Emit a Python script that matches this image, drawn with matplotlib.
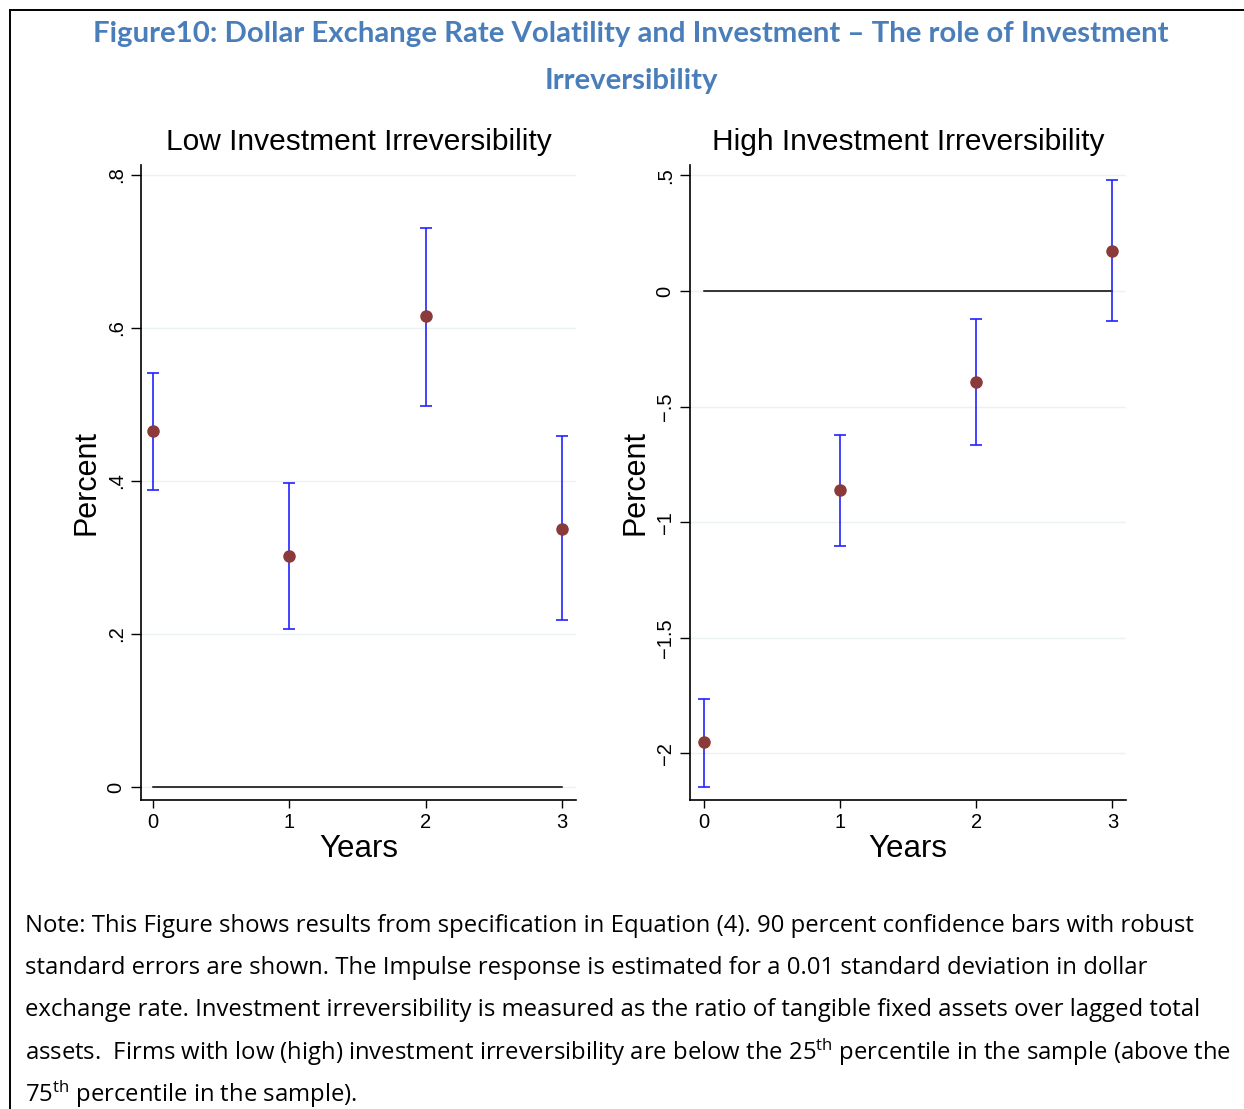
import matplotlib
matplotlib.use("Agg")
import matplotlib.pyplot as plt
from matplotlib.lines import Line2D

# ---------------- data ----------------
years = [0, 1, 2, 3]

low_est = [0.465, 0.302, 0.616, 0.337]
low_lo = [0.388, 0.2065, 0.498, 0.218]
low_hi = [0.541, 0.397, 0.731, 0.459]

high_est = [-1.951, -0.861, -0.394, 0.173]
high_lo = [-2.145, -1.103, -0.666, -0.130]
high_hi = [-1.765, -0.623, -0.121, 0.480]

low_yticks = [0, 0.2, 0.4, 0.6, 0.8]
low_yticklabels = ["0", ".2", ".4", ".6", ".8"]
high_yticks = [-2, -1.5, -1, -0.5, 0, 0.5]
high_yticklabels = ["\u22122", "\u22121.5", "\u22121", "\u2212.5", "0", ".5"]
xticklabels = ["0", "1", "2", "3"]

title_line1 = "Figure10: Dollar Exchange Rate Volatility and Investment \u2013 The role of Investment"
title_line2 = "Irreversibility"
panel_titles = ["Low Investment Irreversibility", "High Investment Irreversibility"]
note_lines = [
    "Note: This Figure shows results from specification in Equation (4). 90 percent confidence bars with robust",
    "standard errors are shown. The Impulse response is estimated for a 0.01 standard deviation in dollar",
    "exchange rate. Investment irreversibility is measured as the ratio of tangible fixed assets over lagged total",
    "assets.  Firms with low (high) investment irreversibility are below the 25$^{\\mathrm{th}}$ percentile in the sample (above the",
    "75$^{\\mathrm{th}}$ percentile in the sample).",
]

# ---------------- figure ----------------
W, H = 1244, 1109
plt.rcParams["mathtext.fontset"] = "custom"
plt.rcParams["mathtext.rm"] = "Open Sans"
plt.rcParams["mathtext.it"] = "Open Sans:italic"
plt.rcParams["mathtext.bf"] = "Open Sans:bold"

fig = plt.figure(figsize=(W / 100, H / 100), dpi=100)
fig.patch.set_facecolor("white")

def fx(px):
    return px / W

def fy(py):
    return 1 - py / H

# border
fig.add_artist(Line2D([fx(10), fx(1244)], [fy(10), fy(10)], color="black", lw=1.4))
fig.add_artist(Line2D([fx(10), fx(10)], [fy(10), fy(1109)], color="black", lw=1.4))

title_color = "#4A7EBB"
fig.text(fx(631), fy(34), title_line1, ha="center", va="center", fontsize=21.2,
         fontweight="bold", color=title_color, family=["Lato", "DejaVu Sans"])
fig.text(fx(631), fy(81), title_line2, ha="center", va="center", fontsize=21.2,
         fontweight="bold", color=title_color, family=["Lato", "DejaVu Sans"])

panel_font = ["Liberation Sans", "DejaVu Sans"]

def make_panel(left_px, right_px, est, lo, hi, yticks, ylabels, ylim, xlim, title):
    ax = fig.add_axes([fx(left_px), fy(800), (right_px - left_px) / W, (800 - 165) / H])
    ax.set_xlim(*xlim)
    ax.set_ylim(*ylim)
    for s in ["top", "right"]:
        ax.spines[s].set_visible(False)
    for s in ["left", "bottom"]:
        ax.spines[s].set_linewidth(1.2)
        ax.spines[s].set_color("black")
    ax.set_yticks(yticks)
    ax.set_yticklabels(ylabels, rotation=90, va="center", family=panel_font, fontsize=14.5)
    ax.set_xticks(years)
    ax.set_xticklabels(xticklabels, family=panel_font, fontsize=14.5)
    ax.tick_params(axis="y", direction="out", length=7, width=1.0, color="black", pad=4)
    ax.tick_params(axis="x", direction="out", length=6, width=1.0, color="black", pad=3)
    ax.grid(axis="y", color="#EAF2F3", lw=1.0)
    ax.set_axisbelow(True)
    ax.plot(years, [0] * len(years), color="black", lw=1.1, zorder=2)
    yerr = [[e - l for e, l in zip(est, lo)], [h - e for e, h in zip(est, hi)]]
    ax.errorbar(years, est, yerr=yerr, fmt="none", ecolor="#2222FF", elinewidth=1.2,
                capsize=4.5, capthick=1.2, zorder=3)
    ax.plot(years, est, "o", color="#8B3A3A", markersize=8, zorder=4)
    ax.set_ylabel("Percent", family=panel_font, fontsize=22, labelpad=4)
    ax.set_xlabel("Years", family=panel_font, fontsize=22.5, labelpad=2)
    ax.set_title(title, family=panel_font, fontsize=21.5, pad=11)
    return ax

make_panel(141, 576, low_est, low_lo, low_hi, low_yticks, low_yticklabels,
           (-0.017, 0.813), (-0.088, 3.103), panel_titles[0])
make_panel(690, 1126, high_est, high_lo, high_hi, high_yticks, high_yticklabels,
           (-2.2016, 0.545), (-0.103, 3.10), panel_titles[1])

note_y = [926, 968, 1010, 1052, 1094]
for line, y in zip(note_lines, note_y):
    fig.text(fx(25), fy(y), line, ha="left", va="center", fontsize=17.2,
             color="black", family=["Open Sans", "DejaVu Sans"])

fig.savefig("out.png", dpi=100, facecolor="white")
